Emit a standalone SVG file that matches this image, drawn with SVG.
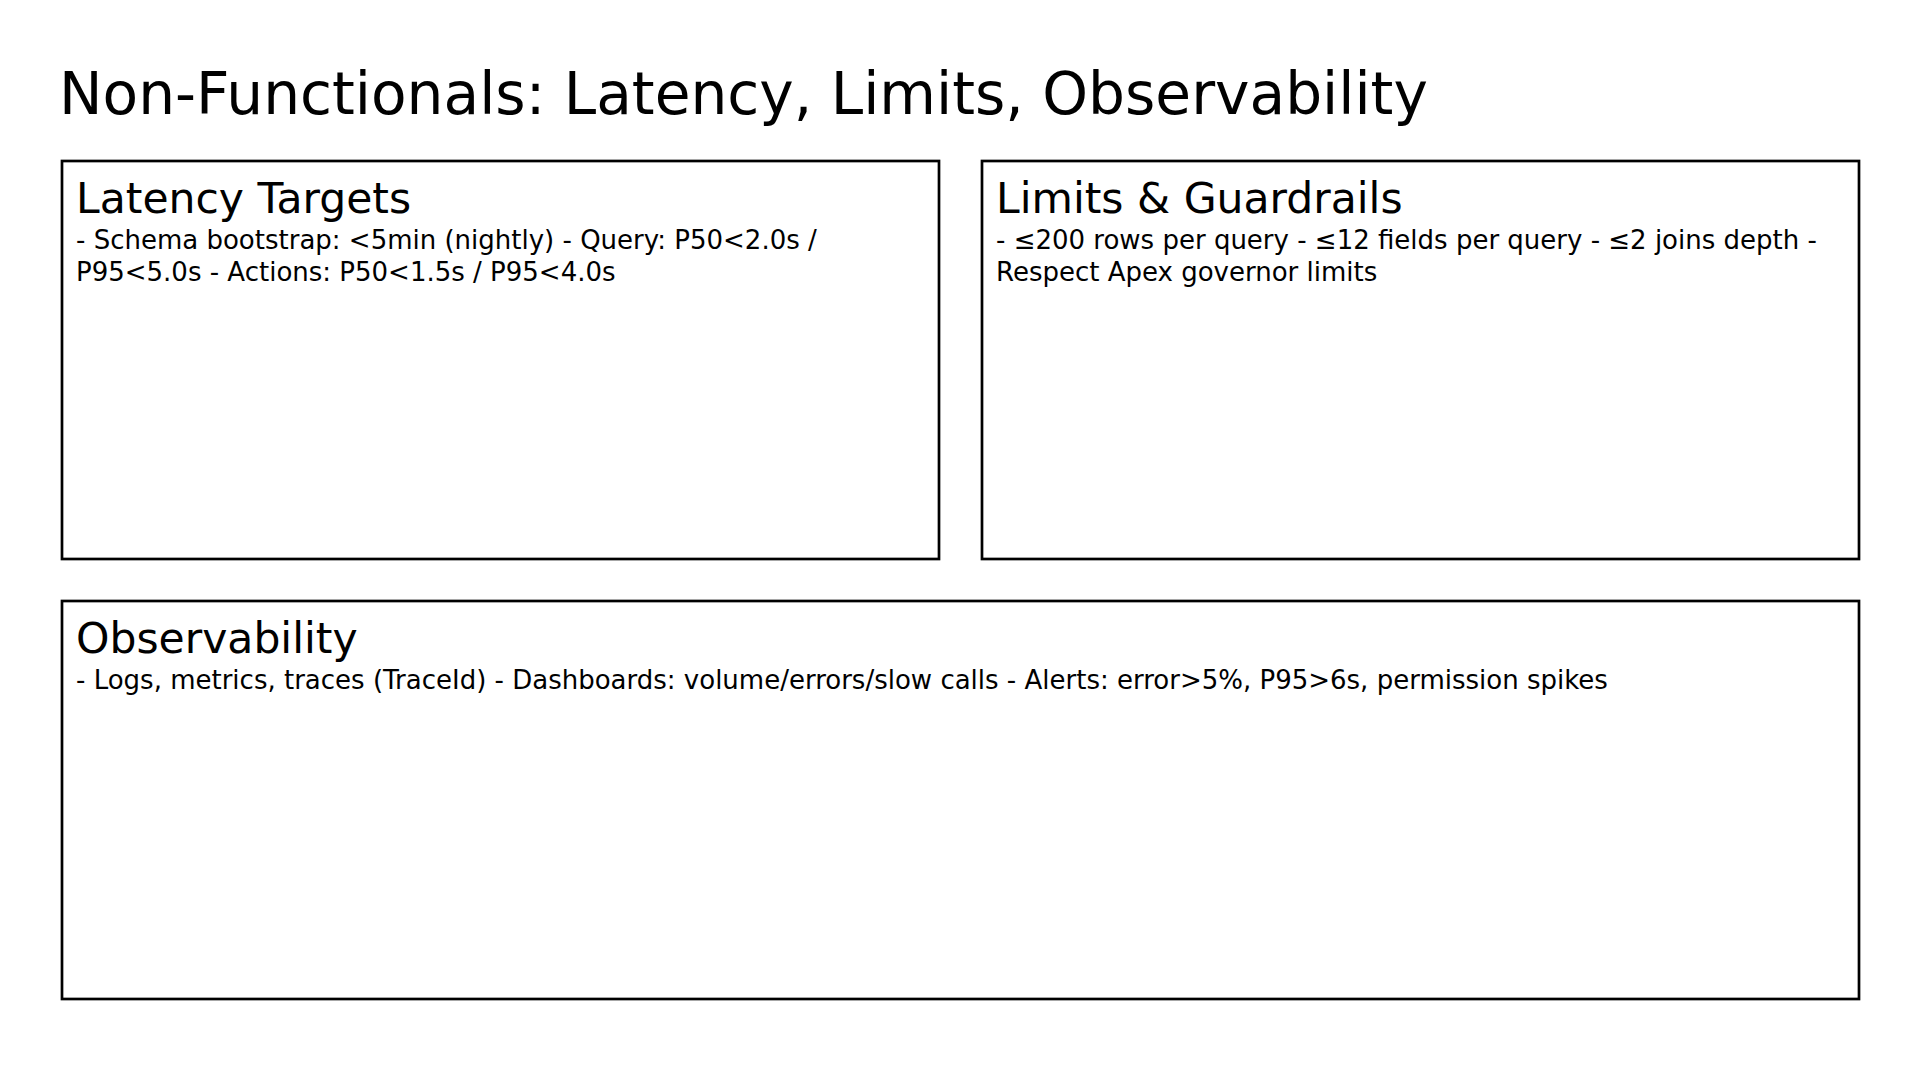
<svg xmlns="http://www.w3.org/2000/svg" width="1920" height="1080" viewBox="0 0 1920 1080">
<style>
  .box { fill: #ffffff; stroke: #000000; stroke-width: 2.7; }
  .title { font-family: "DejaVu Sans", sans-serif; font-size: 58.2px; fill: #000000; }
  .head { font-family: "DejaVu Sans", sans-serif; font-size: 42.5px; fill: #000000; }
  .body { font-family: "DejaVu Sans", sans-serif; font-size: 26px; fill: #000000; }
</style>
<rect x="0" y="0" width="1920" height="1080" fill="#ffffff"/>
<text id="title" class="title" x="59" y="114">Non-Functionals: Latency, Limits, Observability</text>
<g id="latency-targets">
  <rect class="box" x="62" y="161" width="877" height="398"/>
  <text class="head" x="76" y="212.5">Latency Targets</text>
  <text class="body" x="76" y="249"><tspan x="76" y="249">- Schema bootstrap: &lt;5min (nightly) - Query: P50&lt;2.0s /</tspan><tspan x="76" y="280.5">P95&lt;5.0s - Actions: P50&lt;1.5s / P95&lt;4.0s</tspan></text>
</g>
<g id="limits-guardrails">
  <rect class="box" x="982" y="161" width="877" height="398"/>
  <text class="head" x="996" y="212.5">Limits &amp; Guardrails</text>
  <text class="body" x="996" y="249"><tspan x="996" y="249">- ≤200 rows per query - ≤12 fields per query - ≤2 joins depth -</tspan><tspan x="996" y="280.5">Respect Apex governor limits</tspan></text>
</g>
<g id="observability">
  <rect class="box" x="62" y="601" width="1797" height="398"/>
  <text class="head" x="76" y="652.5">Observability</text>
  <text class="body" x="76" y="689">- Logs, metrics, traces (TraceId) - Dashboards: volume/errors/slow calls - Alerts: error&gt;5%, P95&gt;6s, permission spikes</text>
</g>
<g id="connectors"></g>
</svg>
